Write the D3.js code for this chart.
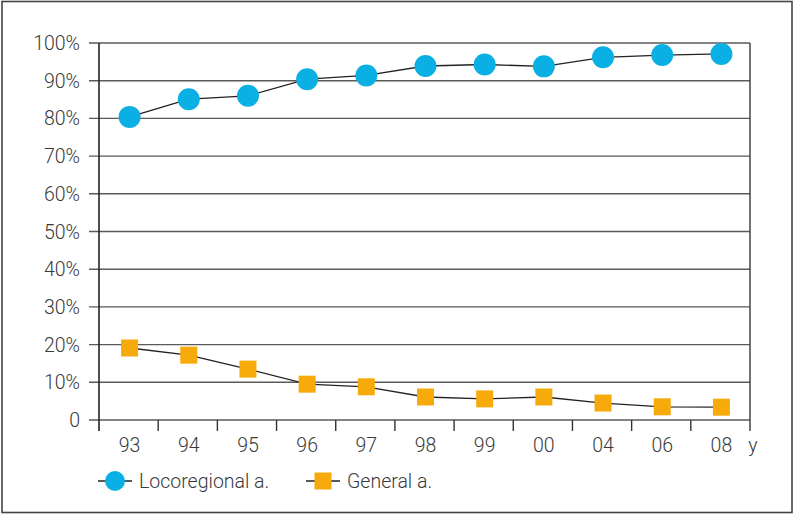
<!DOCTYPE html>
<html><head><meta charset="utf-8">
<script src="https://cdn.jsdelivr.net/npm/d3@7"></script>
<style>
html,body{margin:0;padding:0;background:#fff;}
text{font-family:Roboto,"Liberation Sans",sans-serif;font-weight:300;fill:#3a3a3a;}
</style></head>
<body>
<svg id="chart" width="795" height="515"></svg>
<script>
const years = ["93","94","95","96","97","98","99","00","04","06","08"];
const locoregional = [80.4, 85.1, 86.0, 90.4, 91.4, 93.9, 94.3, 93.8, 96.2, 96.8, 97.1];
const general = [19.1, 17.2, 13.5, 9.5, 8.8, 6.1, 5.6, 6.1, 4.5, 3.5, 3.4];
const yTicks = [0,10,20,30,40,50,60,70,80,90,100];
const seriesNames = ["Locoregional a.", "General a."];

(function(){
const svg = d3.select("#chart");
const mLeft = 99, mRight = 750, mTop = 43, mBottom = 420;
const fs = 19.5;

svg.append("rect").attr("x",2).attr("y",1.5).attr("width",790).attr("height",511)
  .attr("fill","#fff").attr("stroke","#444").attr("stroke-width",1.6);

const x = d3.scaleBand().domain(years).range([mLeft,mRight]).padding(0);
const y = d3.scaleLinear().domain([0,100]).range([mBottom,mTop]);

// gridlines
svg.append("g").selectAll("line").data(yTicks).join("line")
  .attr("x1",89).attr("x2",mRight).attr("y1",d=>y(d)).attr("y2",d=>y(d))
  .attr("stroke","#5a5a5a").attr("stroke-width",1.4);

// y labels
svg.append("g").selectAll("text").data(yTicks).join("text")
  .attr("x",80).attr("y",d=>y(d)).attr("dy","0.36em").attr("text-anchor","end")
  .attr("font-size",fs).text(d=> d===0 ? "0" : d+"%");

// left axis & right border
svg.append("line").attr("x1",mLeft).attr("x2",mLeft).attr("y1",mTop).attr("y2",431)
  .attr("stroke","#222").attr("stroke-width",1.6);
svg.append("line").attr("x1",mRight).attr("x2",mRight).attr("y1",mTop).attr("y2",431)
  .attr("stroke","#444").attr("stroke-width",1.5);

// x ticks
const tickPos = years.slice(1).map(d=>x(d));
svg.append("g").selectAll("line").data(tickPos).join("line")
  .attr("x1",d=>d).attr("x2",d=>d).attr("y1",mBottom).attr("y2",431)
  .attr("stroke","#333").attr("stroke-width",1.4);

// x labels
svg.append("g").selectAll("text").data(years).join("text")
  .attr("x",d=>x(d)+x.bandwidth()/2+1).attr("y",452).attr("text-anchor","middle")
  .attr("font-size",fs).text(d=>d);
svg.append("text").attr("x",753).attr("y",452).attr("text-anchor","middle")
  .attr("font-size",fs).text("y");

const cx = d => x(d)+x.bandwidth()/2+1;
const line = d3.line().x((d,i)=>cx(years[i])).y(d=>y(d));

svg.append("path").datum(locoregional).attr("d",line).attr("fill","none")
  .attr("stroke","#222").attr("stroke-width",1.3);
svg.append("path").datum(general).attr("d",line).attr("fill","none")
  .attr("stroke","#222").attr("stroke-width",1.3);

const blue = "#0aafe4", orange = "#f7aa0c";
svg.append("g").selectAll("circle").data(locoregional).join("circle")
  .attr("cx",(d,i)=>cx(years[i])).attr("cy",d=>y(d)).attr("r",11).attr("fill",blue);
const s = 17;
svg.append("g").selectAll("rect").data(general).join("rect")
  .attr("x",(d,i)=>cx(years[i])-s/2).attr("y",d=>y(d)-s/2).attr("width",s).attr("height",s)
  .attr("fill",orange);

// legend
const legY = 481;
const leg = [{x:98, name:seriesNames[0], type:"c"},{x:306, name:seriesNames[1], type:"s"}];
leg.forEach(l=>{
  svg.append("line").attr("x1",l.x).attr("x2",l.x+34).attr("y1",legY).attr("y2",legY)
    .attr("stroke","#222").attr("stroke-width",1.3);
  if(l.type==="c"){
    svg.append("circle").attr("cx",l.x+17).attr("cy",legY).attr("r",10).attr("fill",blue);
  } else {
    svg.append("rect").attr("x",l.x+17-8.5).attr("y",legY-8.5).attr("width",17).attr("height",17).attr("fill",orange);
  }
  svg.append("text").attr("x",l.x+41).attr("y",legY).attr("dy","0.36em")
    .attr("font-size",fs).text(l.name);
});
})();
</script>
</body></html>
